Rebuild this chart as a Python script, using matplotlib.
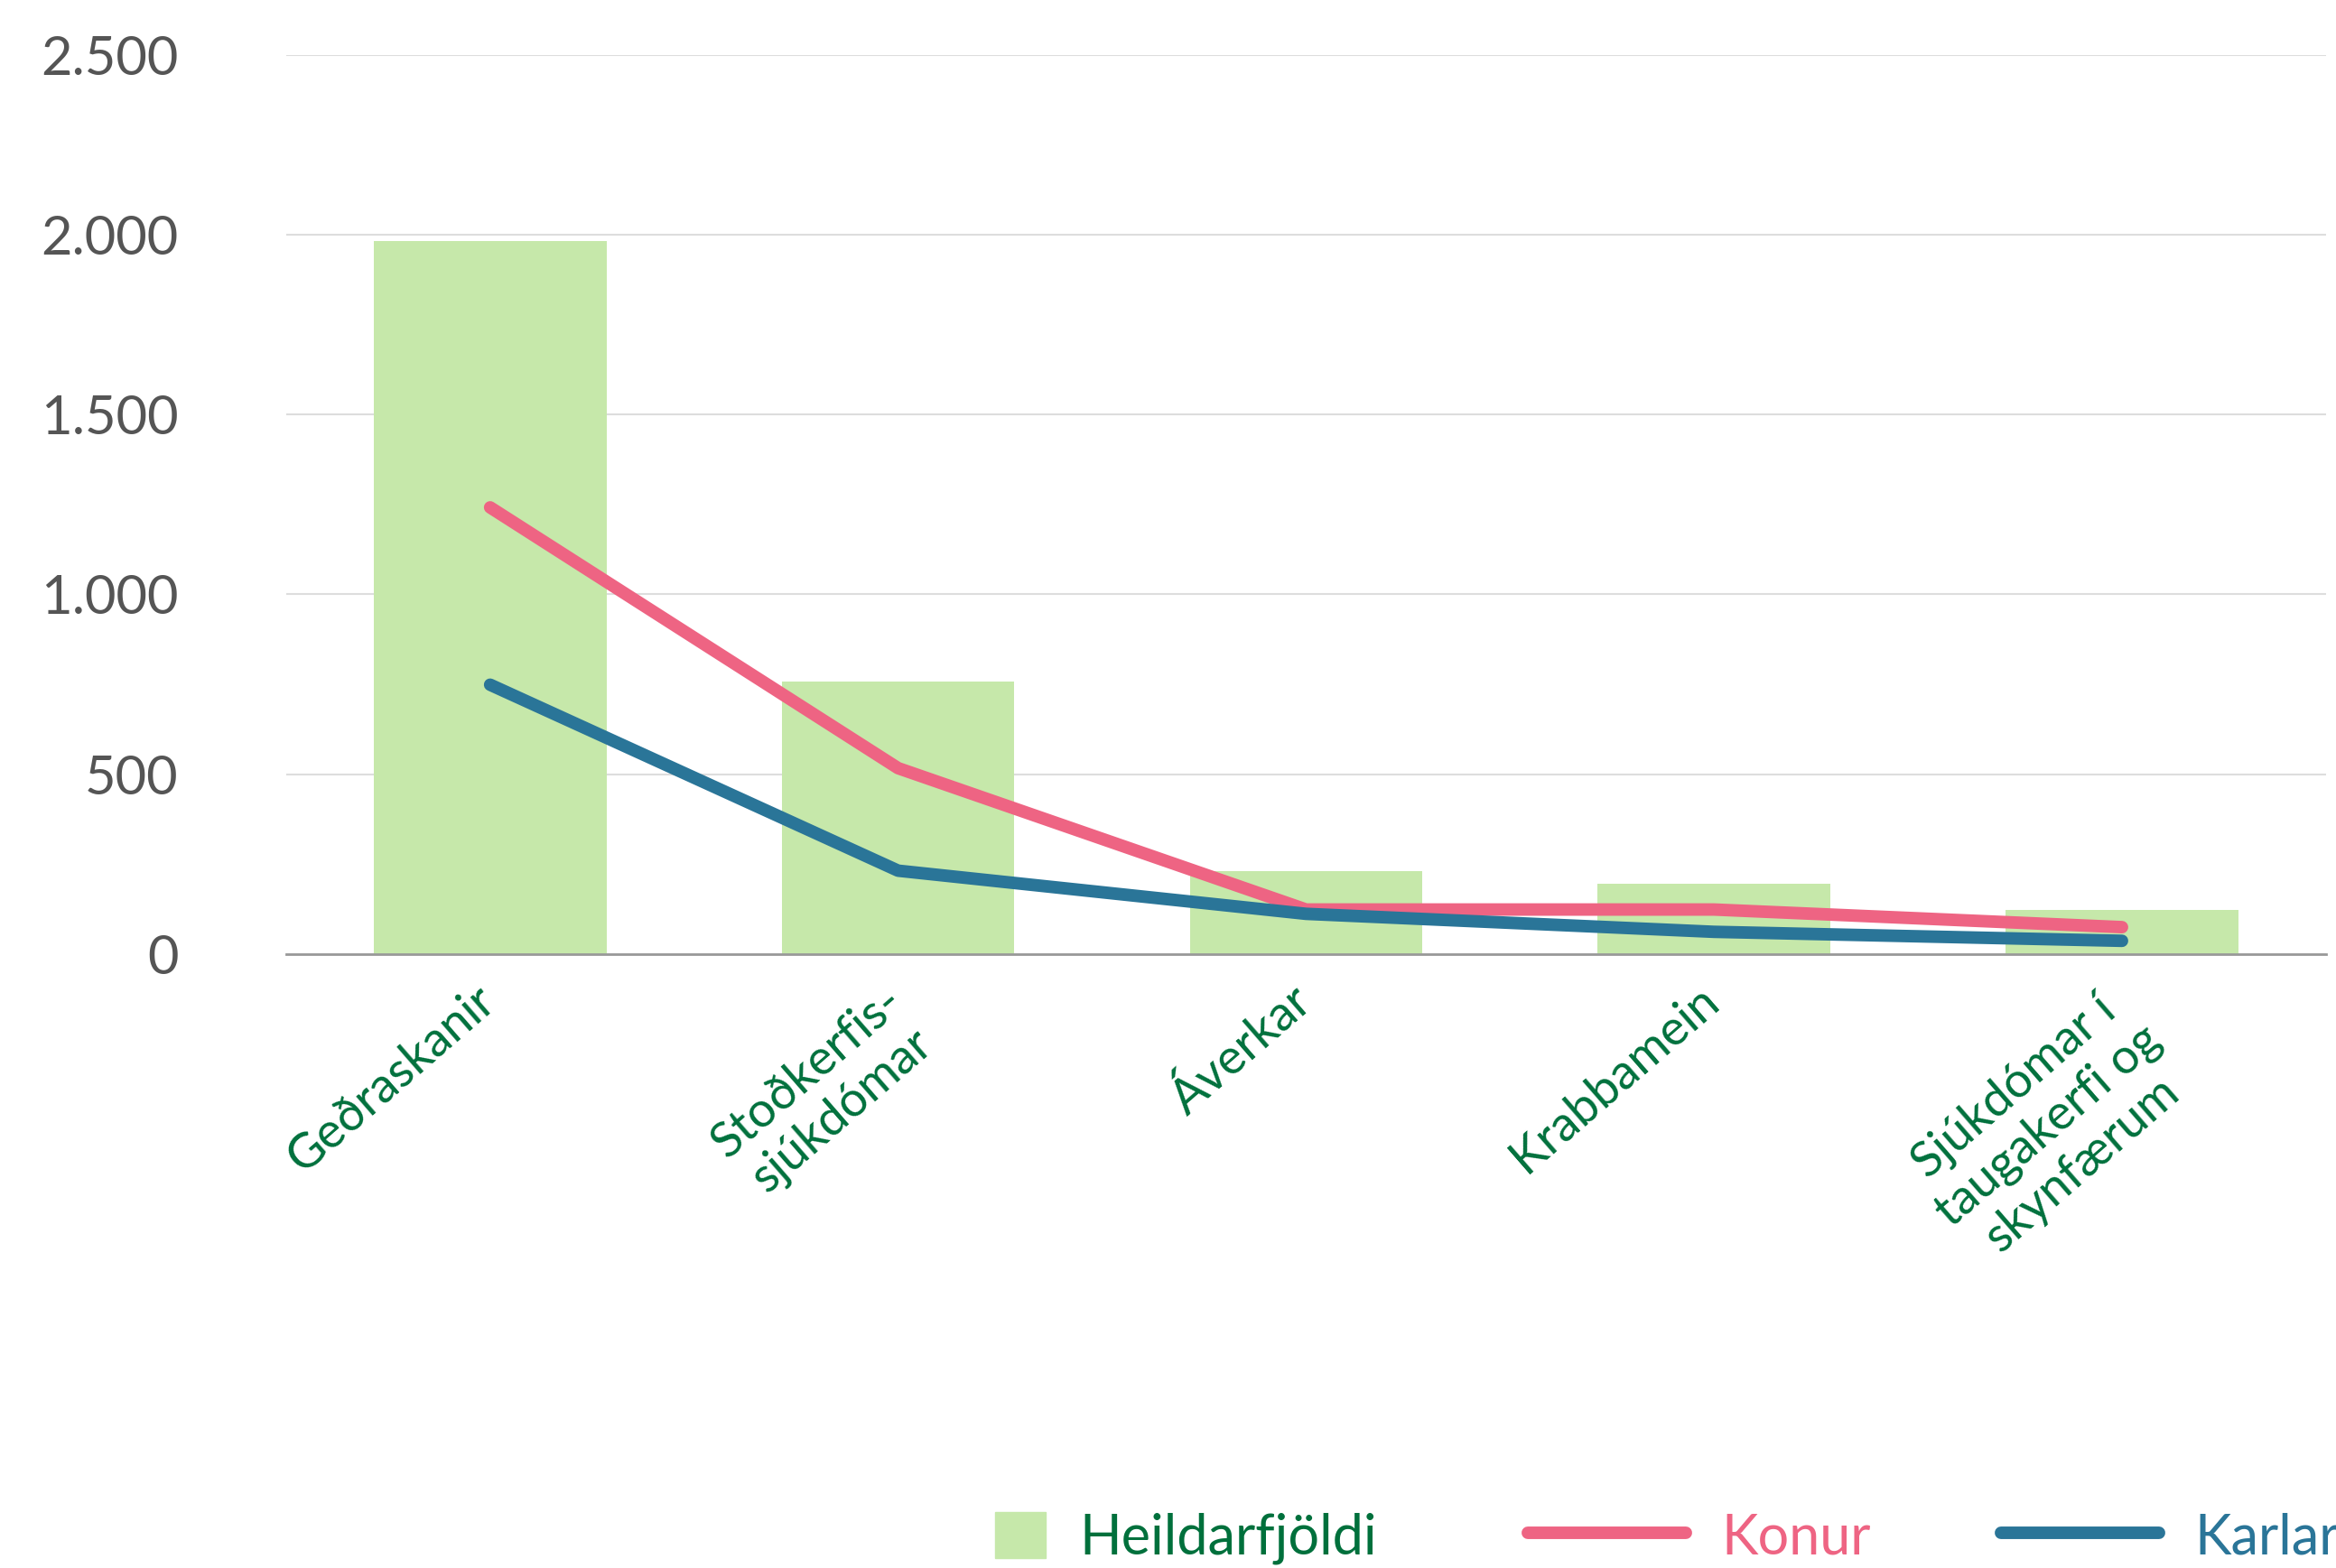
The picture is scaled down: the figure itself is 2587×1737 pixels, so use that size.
import numpy as np
import matplotlib.pyplot as plt
import matplotlib.transforms as mtransforms
from matplotlib.patches import Patch
from matplotlib.lines import Line2D

# data
categories = ['Geðraskanir', 'Stoðkerfis-\nsjúkdómar', 'Áverkar', 'Krabbamein',
              'Sjúkdómar í\ntaugakerfi og\nskynfærum']
heild = [1983, 757, 232, 195, 124]
konur = [1242, 517, 124, 124, 75]
karlar = [749, 232, 112, 62, 37]
yticks = [0, 500, 1000, 1500, 2000, 2500]
ytick_labels = ['0', '500', '1.000', '1.500', '2.000', '2.500']
series_names = ['Heildarfjöldi', 'Konur', 'Karlar']

green_bar = '#c6e8aa'
green_txt = '#00703c'
pink = '#ee6483'
blue = '#2a7598'

plt.rcParams['font.family'] = ['Lato', 'DejaVu Sans']

fig = plt.figure(figsize=(25.87, 17.37), dpi=100)
ax = fig.add_axes([0.1225, 0.3915, 0.8732, 0.5735])

x = np.arange(len(categories))
ax.bar(x, heild, width=0.57, color=green_bar, zorder=2)
ax.plot(x, konur, color=pink, lw=10, solid_capstyle='round', solid_joinstyle='round', zorder=3)
ax.plot(x, karlar, color=blue, lw=10, solid_capstyle='round', solid_joinstyle='round', zorder=4)

ax.set_xlim(-0.5, len(categories) - 0.5)
ax.set_ylim(0, 2500)
ax.set_yticks(yticks)
ax.set_yticklabels(ytick_labels, fontsize=43, color='#555555')
ax.yaxis.grid(True, color='#dddddd', lw=1.5, zorder=0)
ax.tick_params(axis='y', length=0, pad=86)
for s in ['left', 'right', 'top']:
    ax.spines[s].set_visible(False)
ax.spines['bottom'].set_color('#999999')
ax.spines['bottom'].set_linewidth(2)
ax.spines['bottom'].set_zorder(5)

# category labels, rotated and nudged to sit like the reference
ax.set_xticks(x)
ax.set_xticklabels([])
ax.tick_params(axis='x', length=0)
shift = mtransforms.ScaledTranslation(-0.18, -0.26, fig.dpi_scale_trans)
for xi, lab in zip(x, categories):
    ax.text(xi, 0, lab, transform=ax.get_xaxis_transform() + shift,
            rotation=41, ha='right', va='top', rotation_mode='anchor',
            multialignment='center', fontsize=39, color=green_txt, linespacing=1.2)

# three separate legend entries, placed like the reference
handles = [Patch(color=green_bar),
           Line2D([], [], color=pink, lw=10, solid_capstyle='round'),
           Line2D([], [], color=blue, lw=10, solid_capstyle='round')]
colors = [green_txt, pink, blue]
lefts = [0.426, 0.654, 0.8565]
hlens = [0.92, 2.86, 2.86]
pads = [0.6, 0.65, 0.65]
for h, name, c, lx, hl, tp in zip(handles, series_names, colors, lefts, hlens, pads):
    fig.legend([h], [name], loc='center left', bbox_to_anchor=(lx, 0.019),
               frameon=False, fontsize=44, labelcolor=[c], handlelength=hl,
               handleheight=0.92, handletextpad=tp, borderpad=0, borderaxespad=0)

fig.savefig('out.png', dpi=100)
